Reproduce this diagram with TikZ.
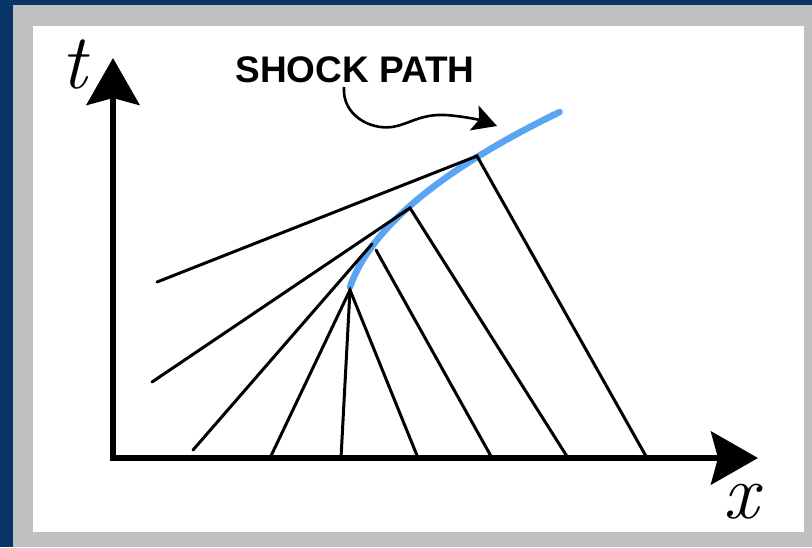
\documentclass[tikz,border=0pt]{standalone}
\usepackage{fontspec}
\newfontfamily\labelfont{Liberation Sans}
\usetikzlibrary{arrows.meta}
\definecolor{frameblue}{RGB}{8,52,104}
\definecolor{framegray}{RGB}{192,192,192}
\definecolor{shockblue}{RGB}{90,164,245}
\begin{document}
\begin{tikzpicture}[x=1pt,y=-1pt,
  axis/.style={line width=6pt,-{Stealth[length=47pt,width=53pt,inset=7pt]}},
  charline/.style={line width=3pt,line cap=round},
  shock/.style={line width=6.5pt,shockblue,line cap=round},
  pointer/.style={line width=2.6pt,-{Stealth[length=24pt,width=26pt,inset=5pt]}},
  biglabel/.style={inner sep=0pt,font=\fontsize{78}{80}\selectfont\itshape},
  shocklabel/.style={inner sep=0pt,font=\labelfont\bfseries\fontsize{37}{40}\selectfont}]
\useasboundingbox (0,0) rectangle (812,547);
\fill[frameblue] (0,0) rectangle (812,547);
\fill[framegray] (13,5) rectangle (812,547);
\fill[white] (33,26) rectangle (804,532);
% shock points
\coordinate (P1) at (350,290);
\coordinate (P2) at (372,244);
\coordinate (P2b) at (376,250);
\coordinate (P3) at (410,208);
\coordinate (P4) at (477,156);
% free ends
\coordinate (L1) at (157,282);
\coordinate (L2) at (152,382);
\coordinate (L3) at (193,450);
\coordinate (B1) at (270,458);
\coordinate (B2) at (341,458);
\coordinate (B3) at (418,458);
\coordinate (B4) at (492,458);
\coordinate (B5) at (568,458);
\coordinate (B6) at (647,458);
\coordinate (O) at (113,458);
\coordinate (T) at (113,58);
\coordinate (X) at (758,458);
% shock path
\draw[shock] plot[domain=3:178,samples=50,variable=\u] ({349+0.00488*\u*\u+0.314*\u},{290-\u});
% characteristics
\draw[charline] (L1) -- (P4) -- (B6);
\draw[charline] (L2) -- (P3) -- (B5);
\draw[charline] (L3) -- (P2);
\draw[charline] (P2b) -- (B4);
\draw[charline] (B1) -- (P1) -- (B3);
\draw[charline] (P1) -- (B2);
% axes
\draw[axis] (O) -- (T);
\draw[axis] ([xshift=-3pt]O) -- (X);
\node[biglabel] (tl) at (74,65) {t};
\node[biglabel] (xl) at (741,502) {x};
% label
\node[shocklabel] (lab) at (355,70) {SHOCK PATH};
\coordinate (S) at (344,87);
\coordinate (E) at (497,126);
\draw[pointer] (S) .. controls (342,115) and (370,130) .. (392,127)
  .. controls (410,124) and (420,114) .. (445,115)
  .. controls (462,116) and (480,120) .. (E);
\end{tikzpicture}
\end{document}
